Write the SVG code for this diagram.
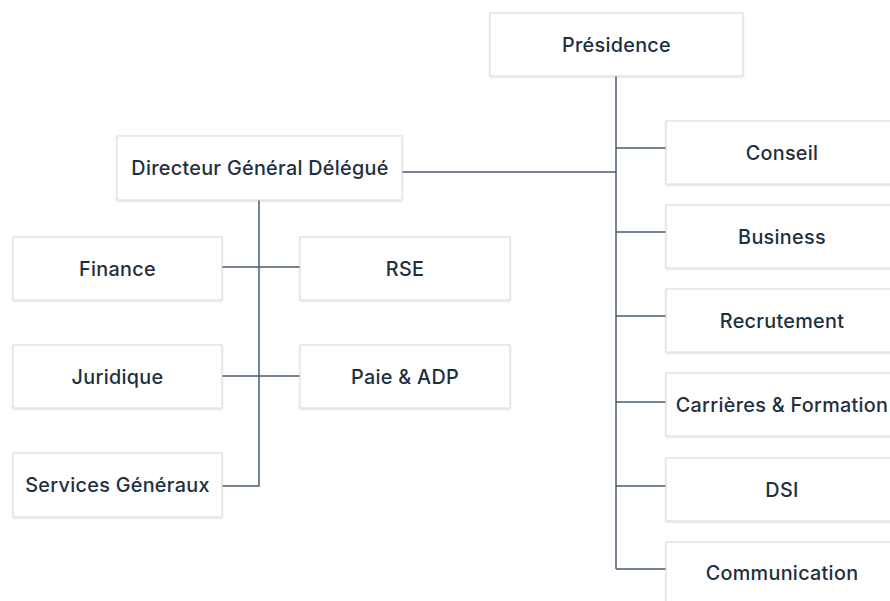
<svg xmlns="http://www.w3.org/2000/svg" width="890" height="601" viewBox="0 0 890 601">
<defs>
<filter id="sh" x="-10%" y="-10%" width="120%" height="130%">
<feDropShadow dx="0" dy="1" stdDeviation="1" flood-color="#000" flood-opacity="0.12"/>
</filter>
<style>
.box{fill:#fff;stroke:#d6d8db;stroke-width:1;filter:url(#sh)}
.lbl{font-family:Inter,"Liberation Sans",sans-serif;font-size:19.8px;font-weight:500;letter-spacing:0.3px;fill:#1e2f40;text-anchor:middle}
.ln{fill:none;stroke:#4a5d70;stroke-width:1.5}
</style>
</defs>
<rect width="890" height="601" fill="#fff"/>
<g id="connectors">
<path class="ln" d="M616 76V569"/>
<path class="ln" d="M616 148H666M616 232H666M616 316H666M616 402H666M616 486H666M616 569H666"/>
<path class="ln" d="M402 172H616"/>
<path class="ln" d="M259 200V486H222"/>
<path class="ln" d="M222 267H300M222 376H300"/>
</g>
<g id="presidence"><rect class="box" x="490" y="13" width="253" height="63"/><text class="lbl" x="616.5" y="51.5">Présidence</text></g>
<g id="conseil"><rect class="box" x="666" y="121" width="232" height="63"/><text class="lbl" x="782" y="159.5">Conseil</text></g>
<g id="business"><rect class="box" x="666" y="205" width="232" height="63"/><text class="lbl" x="782" y="243.5">Business</text></g>
<g id="recrutement"><rect class="box" x="666" y="289" width="232" height="63"/><text class="lbl" x="782" y="327.5">Recrutement</text></g>
<g id="carrieres"><rect class="box" x="666" y="373" width="232" height="63"/><text class="lbl" x="782" y="411.5">Carrières &amp; Formation</text></g>
<g id="dsi"><rect class="box" x="666" y="458" width="232" height="63"/><text class="lbl" x="782" y="496.5">DSI</text></g>
<g id="communication"><rect class="box" x="666" y="542" width="232" height="63"/><text class="lbl" x="782" y="580">Communication</text></g>
<g id="dgd"><rect class="box" x="117" y="136" width="285" height="64"/><text class="lbl" x="260" y="175">Directeur Général Délégué</text></g>
<g id="finance"><rect class="box" x="13" y="237" width="209" height="63"/><text class="lbl" x="117.5" y="275.5">Finance</text></g>
<g id="rse"><rect class="box" x="300" y="237" width="210" height="63"/><text class="lbl" x="405" y="275.5">RSE</text></g>
<g id="juridique"><rect class="box" x="13" y="345" width="209" height="63"/><text class="lbl" x="117.5" y="383.5">Juridique</text></g>
<g id="paie"><rect class="box" x="300" y="345" width="210" height="63"/><text class="lbl" x="405" y="383.5">Paie &amp; ADP</text></g>
<g id="services"><rect class="box" x="13" y="453" width="209" height="64"/><text class="lbl" x="117.5" y="492">Services Généraux</text></g>
</svg>
